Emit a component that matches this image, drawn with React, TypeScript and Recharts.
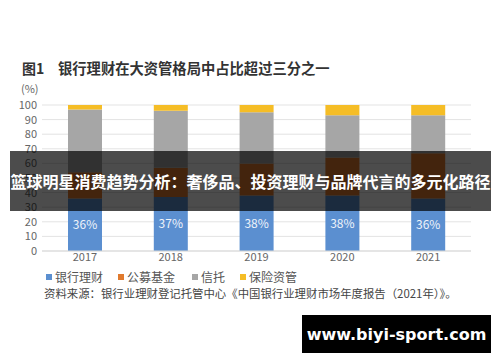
import { BarChart, Bar, XAxis, YAxis, CartesianGrid, LabelList } from "recharts";

const years = ["2017", "2018", "2019", "2020", "2021"];
const bankWealth = [36, 37, 38, 38, 36];
const publicFunds = [18, 20, 22, 26, 31];
const trusts = [43, 39, 35, 29, 26];
const insurance = [3, 4, 5, 7, 7];
const yTicks = [0, 10, 20, 30, 40, 50, 60, 70, 80, 90, 100];

const SERIES = [
  { key: "bank", name: "银行理财", color: "#5b8fd0" },
  { key: "fund", name: "公募基金", color: "#e07a2e" },
  { key: "trust", name: "信托", color: "#a6a6a6" },
  { key: "ins", name: "保险资管", color: "#f5bd26" },
];

const data = years.map((y, i) => ({
  year: y,
  bank: bankWealth[i],
  fund: publicFunds[i],
  trust: trusts[i],
  ins: insurance[i],
}));

const FONT = '"Noto Sans CJK SC", "Noto Sans", sans-serif';

// legend drawn as plain html so it doesn't eat into the plot height
function LegendRow() {
  const xs = [46, 118, 192, 240];
  return (
    <div style={{ position: "absolute", left: 0, top: 268, width: 500, height: 16, fontSize: 12, color: "#555" }}>
      {SERIES.map((s, i) => (
        <div key={s.key} style={{ position: "absolute", left: xs[i], top: 0, display: "flex", alignItems: "center" }}>
          <div style={{ width: 6, height: 6, background: s.color, marginRight: 3 }} />
          <span>{s.name}</span>
        </div>
      ))}
    </div>
  );
}

export default function App() {
  return (
    <div style={{ position: "absolute", left: 0, top: 0, width: 500, height: 362, background: "#fff", overflow: "hidden", fontFamily: FONT }}>
      <BarChart width={500} height={362} data={data} margin={{ top: 105, right: 29, left: 0, bottom: 91 }}>
        <CartesianGrid vertical={false} stroke="#e3e3e3" />
        <XAxis
          dataKey="year"
          height={20}
          tick={{ fill: "#666", fontSize: 11, fontFamily: FONT }}
          tickLine={false}
          axisLine={{ stroke: "#d9d9d9" }}
          tickSize={0}
          tickMargin={2}
        />
        <YAxis
          domain={[0, 100]}
          ticks={yTicks}
          tick={{ fill: "#666", fontSize: 11, fontFamily: FONT }}
          tickLine={false}
          axisLine={false}
          tickSize={3}
          tickMargin={2}
          width={42}
          interval={0}
        />
        {SERIES.map((s) => (
          <Bar key={s.key} dataKey={s.key} name={s.name} stackId="a" fill={s.color} barSize={34} isAnimationActive={false}>
            {s.key === "bank" && (
              <LabelList dataKey="bank" position="center" fill="#eef3fa" fontSize={12} fontFamily={FONT} formatter={(v: any) => `${v}%`} />
            )}
          </Bar>
        ))}
      </BarChart>

      <LegendRow />

      <div style={{ position: "absolute", left: 22, top: 58, fontSize: 14, fontWeight: 700, color: "#333", whiteSpace: "nowrap" }}>图1</div>
      <div style={{ position: "absolute", left: 58, top: 57, fontSize: 14.3, fontWeight: 700, color: "#333", whiteSpace: "nowrap" }}>
        银行理财在大资管格局中占比超过三分之一
      </div>
      <div style={{ position: "absolute", left: 21, top: 81, fontSize: 11, lineHeight: "14px", color: "#666" }}>(%)</div>
      <div style={{ position: "absolute", left: 44, top: 285, fontSize: 11.4, color: "#444", whiteSpace: "nowrap" }}>
        资料来源：银行业理财登记托管中心《中国银行业理财市场年度报告（2021年）》。
      </div>

      <div
        style={{
          position: "absolute", left: 10, top: 151, width: 481, height: 60,
          background: "rgba(0,0,0,0.7)", color: "#fff", fontSize: 16, fontWeight: 700,
          display: "flex", alignItems: "center", justifyContent: "center", whiteSpace: "nowrap",
        }}
      >
        篮球明星消费趋势分析：奢侈品、投资理财与品牌代言的多元化路径
      </div>

      <div
        style={{
          position: "absolute", left: 302, top: 315, width: 189, height: 38,
          background: "#000", color: "#fff", fontSize: 16, fontWeight: 700,
          fontFamily: '"DejaVu Sans", sans-serif',
          display: "flex", alignItems: "center", justifyContent: "center",
        }}
      >
        www.biyi-sport.com
      </div>
    </div>
  );
}
